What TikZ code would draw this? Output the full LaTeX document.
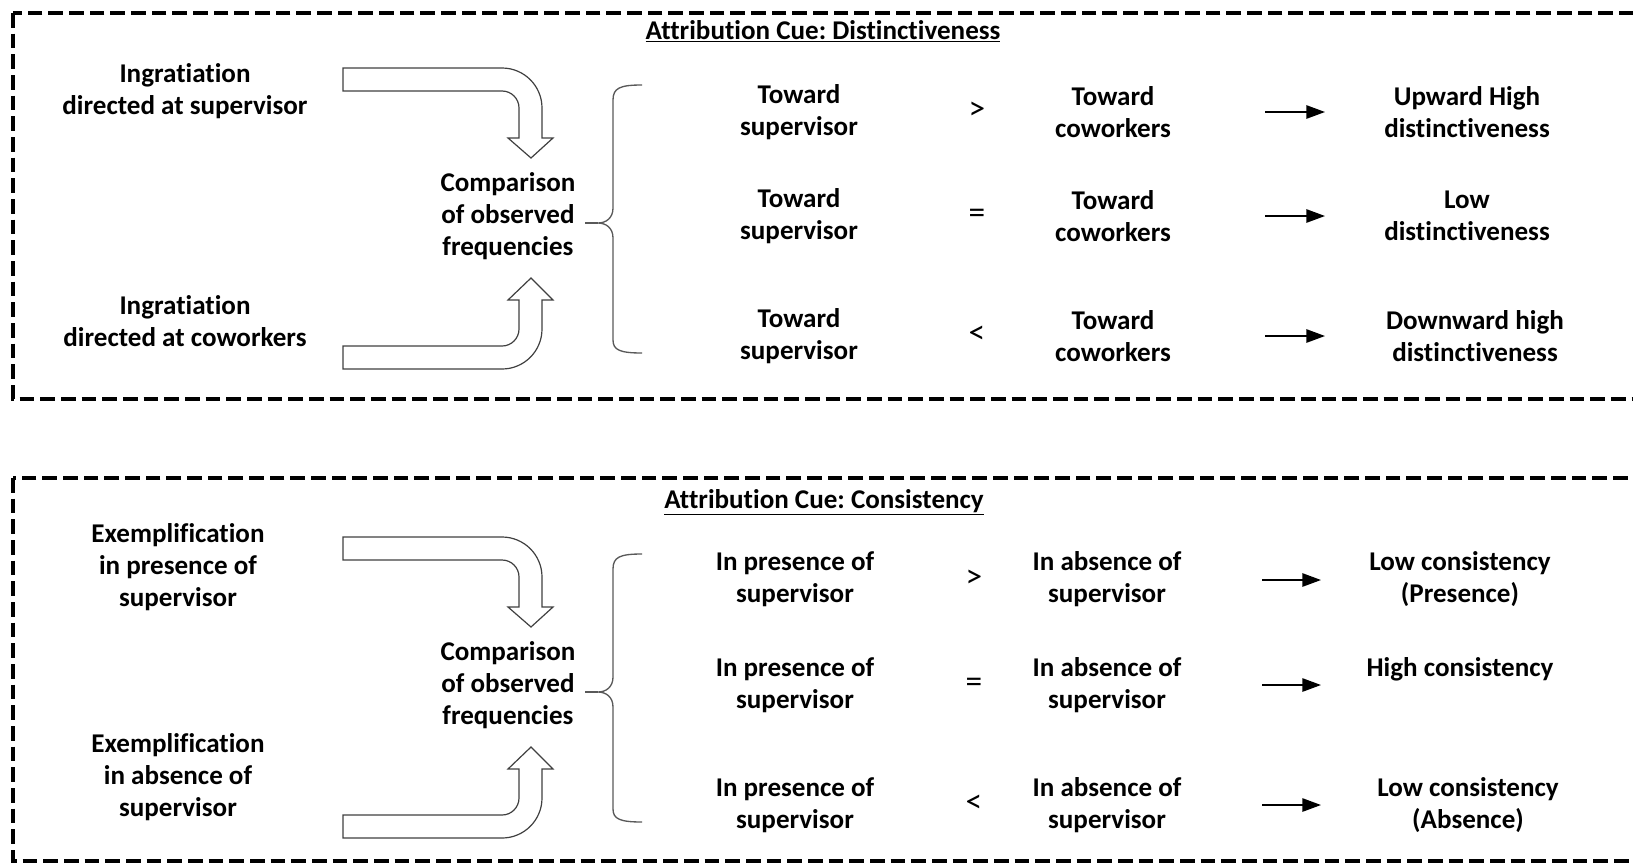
\documentclass[tikz,border=0pt]{standalone}
\usepackage{fontspec}
\setmainfont{Carlito}[Ligatures=NoCommon]
\usetikzlibrary{arrows.meta}
\frenchspacing

\tikzset{
  cuebox/.style={draw, line width=2.5pt, dash pattern=on 11pt off 4.5pt},
  txt/.style={align=center, inner sep=0pt, font=\fontsize{20.3}{24}\selectfont\bfseries},
  opsign/.style={inner sep=0pt, font=\fontsize{25}{24}\selectfont},
  bentarrow/.style={draw=black!75, fill=white, line width=0.9pt},
  brc/.style={draw=black!65, line width=1pt},
  res/.style={-{Triangle[length=14pt,width=10pt]}, line width=1.3pt},
}

\begin{document}
\begin{tikzpicture}[x=0.75pt,y=0.75pt,yscale=-1,xscale=1]
\useasboundingbox (0,0) rectangle (1633,864);

%% Distinctiveness
\draw[cuebox] (13,13) rectangle (1636,399);
\node[txt] (title1) at (823,31) {\underline{Attribution Cue: Distinctiveness}};

\node[txt] (ing1) at (185,91) {Ingratiation\\directed at supervisor};
\node[txt] (ing2) at (185,321) {Ingratiation\\directed at coworkers};
\node[txt] (cmp1) at (508,216) {Comparison\\of observed\\frequencies};

\draw[bentarrow] (343,68) -- (502,68) arc[start angle=-90,end angle=0,radius=40] -- (542,138) -- (553,138) -- (531,158) -- (508,138) -- (519,138) -- (519,108) arc[start angle=0,end angle=-90,radius=17] -- (343,91) -- cycle;
\draw[bentarrow] (343,346) -- (502,346) arc[start angle=90,end angle=0,radius=17] -- (519,300) -- (508,300) -- (531,278) -- (553,300) -- (542,300) -- (542,329) arc[start angle=0,end angle=90,radius=40] -- (343,369) -- cycle;

\coordinate (tip1) at (598,223);
\draw[brc] (642,85) .. controls (620,85) and (613,88) .. (613,100) -- (613,208) .. controls (613,218) and (606,223) .. (tip1) .. controls (606,223) and (613,228) .. (613,238) -- (613,340) .. controls (613,350) and (620,353) .. (642,353);
\draw[brc] (tip1) -- (585,223);

\node[txt] (s1) at (799,112) {Toward\\supervisor};
\node[opsign] (o1) at (977,111) {>};
\node[txt] (c1) at (1113,112) {Toward\\coworkers};
\coordinate (a1) at (1265,112);
\coordinate (b1) at (1325,112);
\draw[res] (a1) -- (b1);
\node[txt] (r1) at (1467,112) {Upward High\\distinctiveness};

\node[txt] (s2) at (799,216) {Toward\\supervisor};
\node[opsign] (o2) at (977,216) {=};
\node[txt] (c2) at (1113,216) {Toward\\coworkers};
\coordinate (a2) at (1265,216);
\coordinate (b2) at (1325,216);
\draw[res] (a2) -- (b2);
\node[txt] (r2) at (1467,216) {Low\\distinctiveness};

\node[txt] (s3) at (799,336) {Toward\\supervisor};
\node[opsign] (o3) at (977,335) {<};
\node[txt] (c3) at (1113,336) {Toward\\coworkers};
\coordinate (a3) at (1265,336);
\coordinate (b3) at (1325,336);
\draw[res] (a3) -- (b3);
\node[txt] (r3) at (1475,336) {Downward high\\distinctiveness};

%% Consistency
\draw[cuebox] (13,478) rectangle (1636,861);
\node[txt] (title2) at (824,502) {\underline{Attribution Cue: Consistency}};

\node[txt] (ex1) at (178,567) {Exemplification\\in presence of\\supervisor};
\node[txt] (ex2) at (178,777) {Exemplification\\in absence of\\supervisor};
\node[txt] (cmp2) at (508,685) {Comparison\\of observed\\frequencies};

\draw[bentarrow] (343,537) -- (502,537) arc[start angle=-90,end angle=0,radius=40] -- (542,607) -- (553,607) -- (531,627) -- (508,607) -- (519,607) -- (519,577) arc[start angle=0,end angle=-90,radius=17] -- (343,560) -- cycle;
\draw[bentarrow] (343,815) -- (502,815) arc[start angle=90,end angle=0,radius=17] -- (519,769) -- (508,769) -- (531,747) -- (553,769) -- (542,769) -- (542,798) arc[start angle=0,end angle=90,radius=40] -- (343,838) -- cycle;

\coordinate (tip2) at (598,692);
\draw[brc] (642,554) .. controls (620,554) and (613,557) .. (613,569) -- (613,677) .. controls (613,687) and (606,692) .. (tip2) .. controls (606,692) and (613,697) .. (613,707) -- (613,809) .. controls (613,819) and (620,822) .. (642,822);
\draw[brc] (tip2) -- (585,692);

\node[txt] (p1) at (795,579) {In presence of\\supervisor};
\node[opsign] (q1) at (974,579) {>};
\node[txt] (n1) at (1107,579) {In absence of\\supervisor};
\coordinate (d1) at (1262,580);
\coordinate (e1) at (1321,580);
\draw[res] (d1) -- (e1);
\node[txt] (k1) at (1460,579) {Low consistency\\(Presence)};

\node[txt] (p2) at (795,685) {In presence of\\supervisor};
\node[opsign] (q2) at (974,685) {=};
\node[txt] (n2) at (1107,685) {In absence of\\supervisor};
\coordinate (d2) at (1262,685);
\coordinate (e2) at (1321,685);
\draw[res] (d2) -- (e2);
\node[txt] (k2) at (1460,669) {High consistency};

\node[txt] (p3) at (795,805) {In presence of\\supervisor};
\node[opsign] (q3) at (974,804) {<};
\node[txt] (n3) at (1107,805) {In absence of\\supervisor};
\coordinate (d3) at (1262,805);
\coordinate (e3) at (1321,805);
\draw[res] (d3) -- (e3);
\node[txt] (k3) at (1468,805) {Low consistency\\(Absence)};
\end{tikzpicture}
\end{document}
